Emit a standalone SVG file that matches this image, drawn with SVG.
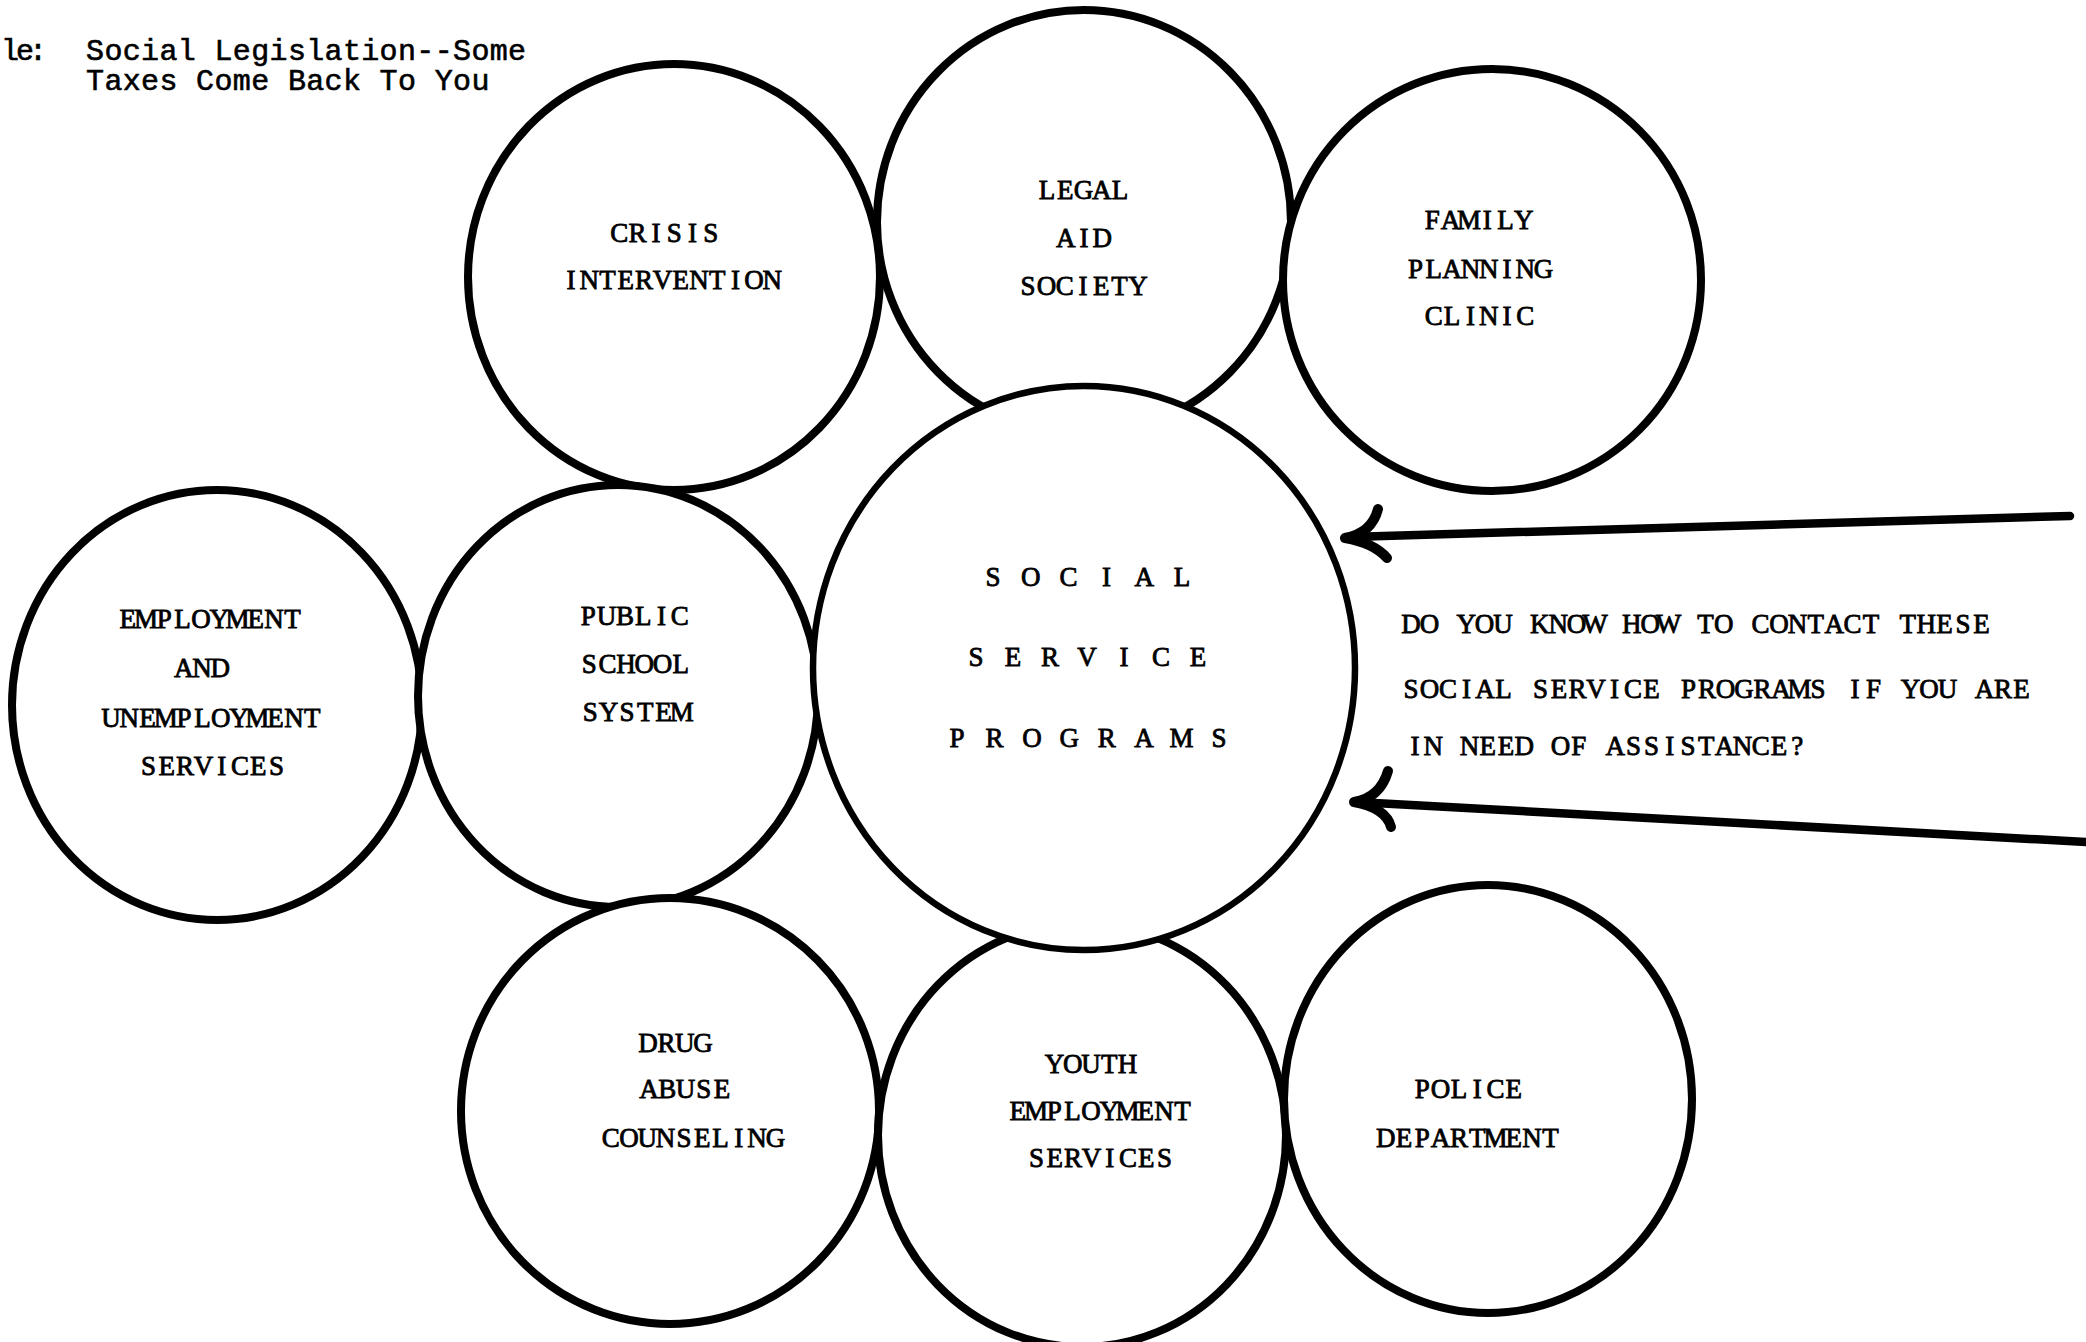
<svg xmlns="http://www.w3.org/2000/svg" width="2086" height="1342" viewBox="0 0 2086 1342">
<style>
.c{fill:#fff;stroke:#000;stroke-width:8}
.s{fill:#fff;stroke:#000;stroke-width:6.5}
text{font-family:"Liberation Serif","DejaVu Serif",serif;font-size:27px;text-anchor:middle;fill:#000;stroke:#000;stroke-width:0.8}
.t{font-family:"Liberation Mono","DejaVu Sans Mono",monospace;font-size:30px;stroke-width:0.6}
.a{fill:none;stroke:#000;stroke-width:8.5;stroke-linecap:round}
.h{fill:none;stroke:#000;stroke-width:10;stroke-linecap:round;stroke-linejoin:round}
</style>
<rect width="2086" height="1342" fill="#fff"/>
<g id="title">
<text class="t" x="10 25 38" y="60">le:</text>
<text class="t" x="95 113.4 131.7 150.1 168.4 186.8 205.1 223.5 241.8 260.2 278.5 296.9 315.2 333.6 351.9 370.3 388.6 407 425.3 443.7 462 480.4 498.7 517.1" y="60">Social Legislation--Some</text>
<text class="t" x="95 113.4 131.7 150.1 168.4 186.8 205.1 223.5 241.8 260.2 278.5 296.9 315.2 333.6 351.9 370.3 388.6 407 425.3 443.7 462 480.4" y="90">Taxes Come Back To You</text>
</g>
<g id="crisis-intervention">
<ellipse class="c" cx="674" cy="277" rx="206" ry="213"/>
<text x="619.3 637.6 655.9 674.2 692.5 710.8" y="242">CRISIS</text>
<text x="570.9 589.2 607.5 625.8 644.1 662.4 680.7 699 717.3 735.6 753.9 772.2" y="289">INTERVENTION</text>
</g>
<g id="legal-aid-society">
<ellipse class="c" cx="1084" cy="222" rx="207" ry="212"/>
<text x="1046.9 1065.2 1083.5 1101.8 1120.1" y="199">LEGAL</text>
<text x="1065.7 1084 1102.3" y="247">AID</text>
<text x="1028.1 1046.4 1064.7 1083 1101.3 1119.6 1137.9" y="295">SOCIETY</text>
</g>
<g id="family-planning-clinic">
<ellipse class="c" cx="1492" cy="280" rx="209" ry="211"/>
<text x="1432.3 1450.6 1468.9 1487.2 1505.5 1523.8" y="229">FAMILY</text>
<text x="1415.5 1433.8 1452.1 1470.4 1488.7 1507 1525.3 1543.6" y="278">PLANNING</text>
<text x="1433.8 1452.1 1470.4 1488.7 1507 1525.3" y="325">CLINIC</text>
</g>
<g id="employment-services">
<ellipse class="c" cx="217" cy="705" rx="205" ry="215"/>
<text x="127.7 146 164.3 182.6 200.9 219.2 237.5 255.8 274.1 292.4" y="628">EMPLOYMENT</text>
<text x="183.7 202 220.3" y="677">AND</text>
<text x="110.9 129.2 147.5 165.8 184.1 202.4 220.7 239 257.3 275.6 293.9 312.2" y="727">UNEMPLOYMENT</text>
<text x="148.5 166.8 185.1 203.4 221.7 240 258.3 276.6" y="775">SERVICES</text>
</g>
<g id="public-school-system">
<ellipse class="c" cx="618" cy="696" rx="200" ry="211"/>
<text x="588.3 606.6 624.9 643.2 661.5 679.8" y="625">PUBLIC</text>
<text x="589.3 607.6 625.9 644.2 662.5 680.8" y="673">SCHOOL</text>
<text x="590.3 608.6 626.9 645.2 663.5 681.8" y="721">SYSTEM</text>
</g>
<g id="drug-abuse-counseling">
<ellipse class="c" cx="670" cy="1111" rx="209" ry="213"/>
<text x="648.1 666.4 684.7 703" y="1052">DRUG</text>
<text x="648.9 667.2 685.5 703.8 722.1" y="1098">ABUSE</text>
<text x="610.7 629 647.3 665.6 683.9 702.2 720.5 738.8 757.1 775.4" y="1147">COUNSELING</text>
</g>
<g id="youth-employment-services">
<ellipse class="c" cx="1082" cy="1135" rx="204" ry="212"/>
<text x="1054.4 1072.7 1091 1109.3 1127.6" y="1073">YOUTH</text>
<text x="1017.7 1036 1054.3 1072.6 1090.9 1109.2 1127.5 1145.8 1164.1 1182.4" y="1120">EMPLOYMENT</text>
<text x="1036.5 1054.8 1073.1 1091.4 1109.7 1128 1146.3 1164.6" y="1167">SERVICES</text>
</g>
<g id="police-department">
<ellipse class="c" cx="1488" cy="1099" rx="204" ry="214"/>
<text x="1422.3 1440.6 1458.9 1477.2 1495.5 1513.8" y="1098">POLICE</text>
<text x="1385.7 1404 1422.3 1440.6 1458.9 1477.2 1495.5 1513.8 1532.1 1550.4" y="1147">DEPARTMENT</text>
</g>
<g id="social-service-programs">
<ellipse class="s" cx="1084" cy="668" rx="271" ry="282"/>
<text x="993 1011.9 1030.8 1049.7 1068.6 1087.5 1106.4 1125.3 1144.2 1163.1 1182" y="586">S O C I A L</text>
<text x="976 994.5 1013 1031.5 1050 1068.5 1087 1105.5 1124 1142.5 1161 1179.5 1198" y="666">S E R V I C E</text>
<text x="957.1 975.8 994.5 1013.2 1031.9 1050.6 1069.3 1088 1106.7 1125.4 1144.1 1162.8 1181.5 1200.2 1218.9" y="747">P R O G R A M S</text>
</g>
<g id="question">
<text x="1411 1429.4 1447.8 1466.2 1484.6 1503 1521.4 1539.8 1558.2 1576.6 1595 1613.4 1631.8 1650.2 1668.6 1687 1705.4 1723.8 1742.2 1760.6 1779 1797.4 1815.8 1834.2 1852.6 1871 1889.4 1907.8 1926.2 1944.6 1963 1981.4" y="633">DO YOU KNOW HOW TO CONTACT THESE</text>
<text x="1411 1429.5 1448 1466.5 1485 1503.5 1522 1540.5 1559 1577.5 1596 1614.5 1633 1651.5 1670 1688.5 1707 1725.5 1744 1762.5 1781 1799.5 1818 1836.5 1855 1873.5 1892 1910.5 1929 1947.5 1966 1984.5 2003 2021.5" y="698">SOCIAL SERVICE PROGRAMS IF YOU ARE</text>
<text x="1415 1433.2 1451.4 1469.6 1487.8 1506 1524.2 1542.4 1560.6 1578.8 1597 1615.2 1633.4 1651.6 1669.8 1688 1706.2 1724.4 1742.6 1760.8 1779 1797.2" y="755">IN NEED OF ASSISTANCE?</text>
</g>
<g id="connectors">
<path class="a" d="M2070,516 L1350,537"/>
<path class="h" d="M1378,509 Q1372,533 1345,538 Q1374,543 1387,558"/>
<path class="a" d="M2086,842 L1356,802"/>
<path class="h" d="M1388,771 Q1380,798 1354,802 Q1386,808 1391,827"/>
</g>
</svg>
